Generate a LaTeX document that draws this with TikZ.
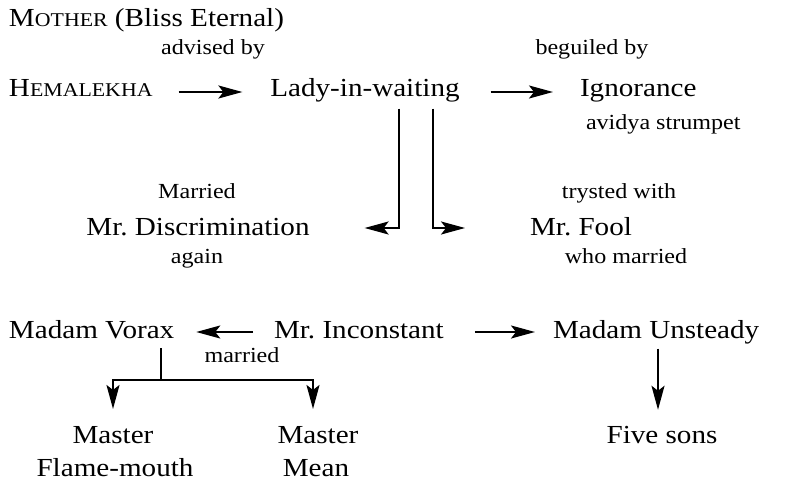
\documentclass[tikz,border=0pt]{standalone}
\usepackage{fontspec}
\setmainfont{Liberation Serif}[FakeStretch=1.12]
\usetikzlibrary{arrows.meta}

% small capitals by hand
\newcommand{\smcp}[2]{#1{\fontsize{19.5}{21}\selectfont #2}}

\begin{document}
\begin{tikzpicture}[x=1pt,y=-1pt, line width=2pt,
    big/.style={font=\fontsize{26}{30}\selectfont, inner sep=0pt},
    small/.style={font=\fontsize{21.5}{25}\selectfont, inner sep=0pt},
    link/.style={-{Stealth[length=24pt,width=13pt,inset=5pt]}}]

        \useasboundingbox (0,0) rectangle (791,481);

        %===========================
        % Top row
        %===========================
        \node[big, anchor=base west] (mother) at (8,27) {\smcp{M}{OTHER} (Bliss Eternal)};
        \node[small, anchor=base] (advised) at (213,55) {advised by};
        \node[big, anchor=base west] (hema) at (8,97) {\smcp{H}{EMALEKHA}};
        \node[big, anchor=base] (lady) at (365,97) {Lady-in-waiting};
        \node[small, anchor=base] (beguiled) at (592,55) {beguiled by};
        \node[big, anchor=base west] (ignorance) at (579,97) {Ignorance};
        \node[small, anchor=base west] (avidya) at (585,130) {avidya strumpet};

        \draw[link, shorten <=25pt, shorten >=27pt] ([yshift=5pt]hema.base east) -- ([yshift=5pt]lady.base west);
        \draw[link, shorten <=30pt, shorten >=26pt] ([yshift=5pt]lady.base east) -- ([yshift=5pt]ignorance.base west);

        %===========================
        % Middle row
        %===========================
        \node[small, anchor=base] (married) at (197,198) {Married};
        \node[big, anchor=base] (discr) at (198,235) {Mr.\ Discrimination};
        \node[small, anchor=base] (again) at (197,263) {again};
        \node[small, anchor=base] (trysted) at (619,198) {trysted with};
        \node[big, anchor=base] (fool) at (581,235) {Mr.\ Fool};
        \node[small, anchor=base] (whomarried) at (626,263) {who married};

        \draw[link, shorten <=5pt, shorten >=54pt] ([xshift=34pt]lady.south) |- ([yshift=7pt]discr.base east);
        \draw[link, shorten <=5pt, shorten >=64pt] ([xshift=68pt]lady.south) |- ([yshift=7pt]fool.base west);

        %===========================
        % Bottom rows
        %===========================
        \node[big, anchor=base west] (vorax) at (8,338) {Madam Vorax};
        \node[big, anchor=base west] (inconstant) at (273,338) {Mr.\ Inconstant};
        \node[big, anchor=base west] (unsteady) at (552,338) {Madam Unsteady};
        \node[small, anchor=base] (wed) at (242,362) {married};

        \draw[link, shorten <=20pt, shorten >=21pt] ([yshift=6pt]inconstant.base west) -- ([yshift=6pt]vorax.base east);
        \draw[link, shorten <=30pt, shorten >=17pt] ([yshift=6pt]inconstant.base east) -- ([yshift=6pt]unsteady.base west);

        \node[big, anchor=base] (masterA) at (113,443) {Master};
        \node[big, anchor=base] (flame) at (115,476) {Flame-mouth};
        \node[big, anchor=base] (masterB) at (318,443) {Master};
        \node[big, anchor=base] (mean) at (316,476) {Mean};
        \node[big, anchor=base] (five) at (662,443) {Five sons};

        % Children
        \coordinate (stem) at (161,348);
        \coordinate (fork) at (161,380);
        \draw (stem) -- (fork);
        \draw[link, shorten >=16pt] (fork) -| (masterA.north);
        \draw[link, shorten >=16pt] (fork) -| ([xshift=-5pt]masterB.north);
        \draw[link, shorten <=4pt, shorten >=15pt] ([xshift=-4pt]five.north |- unsteady.south) -- ([xshift=-4pt]five.north);

\end{tikzpicture}
\end{document}
